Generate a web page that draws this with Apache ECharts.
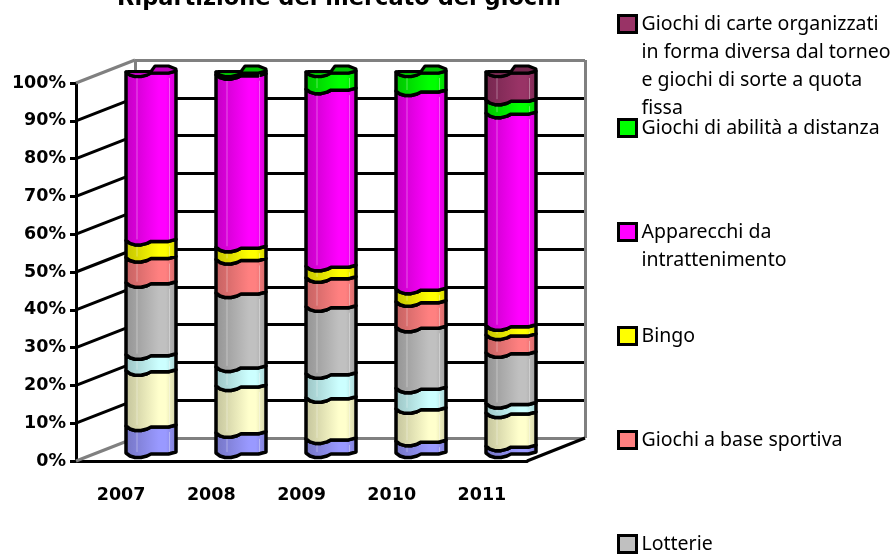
<!DOCTYPE html>
<html>
<head>
<meta charset="utf-8">
<style>html,body{margin:0;padding:0;background:#fff}#chart{width:895px;height:555px}</style>
<script src="https://cdn.jsdelivr.net/npm/echarts@6/dist/echarts.min.js"></script>
</head>
<body>
<div id="chart"></div>
<script>
var years = ['2007', '2008', '2009', '2010', '2011'];
var ticks = [0, 10, 20, 30, 40, 50, 60, 70, 80, 90, 100];

// bottom to top of the stack
var ippica = [7.1, 5.3, 3.7, 3.1, 1.8];
var lotto = [14.5, 12.3, 10.8, 8.5, 8.7];
var numerici = [4.2, 5, 6.3, 5.4, 2.5];
var lotterie = [18.9, 19.4, 17.6, 16, 13.3];
var sportiva = [6.6, 8.8, 7.6, 6.7, 4.7];
var bingo = [4.5, 3.2, 3, 3.3, 2.4];
var apparecchi = [44.2, 45.3, 46.5, 52, 55.8];
var abilita = [0, 0.7, 4.5, 5, 3.4];
var carte = [0, 0, 0, 0, 7.4];

var stack = [
    {name: 'Giochi a base ippica', values: ippica, color: [153, 153, 255]},
    {name: 'Lotto', values: lotto, color: [255, 255, 204]},
    {name: 'Giochi numerici a totalizzatore', values: numerici, color: [204, 255, 255]},
    {name: 'Lotterie', values: lotterie, color: [192, 192, 192]},
    {name: 'Giochi a base sportiva', values: sportiva, color: [255, 128, 128]},
    {name: 'Bingo', values: bingo, color: [255, 255, 0]},
    {name: 'Apparecchi da intrattenimento', values: apparecchi, color: [255, 0, 255]},
    {name: 'Giochi di abilità a distanza', values: abilita, color: [0, 255, 0]},
    {name: 'Giochi di carte organizzati in forma diversa dal torneo e giochi di sorte a quota fissa', values: carte, color: [153, 51, 102]}
];

var legendRows = [
    {name: stack[8].name, lines: ['Giochi di carte organizzati', 'in forma diversa dal torneo', 'e giochi di sorte a quota', 'fissa'], y: 24},
    {name: stack[7].name, lines: ['Giochi di abilità a distanza'], y: 128},
    {name: stack[6].name, lines: ['Apparecchi da', 'intrattenimento'], y: 232},
    {name: stack[5].name, lines: ['Bingo'], y: 336},
    {name: stack[4].name, lines: ['Giochi a base sportiva'], y: 440},
    {name: stack[3].name, lines: ['Lotterie'], y: 544}
];

var DEPTH_X = 59, DEPTH_Y = -23, BAR_W = 50;
var LEGEND_LH = 28;
var edge = [[0, -2], [0.08, 1], [0.18, 2.5], [0.3, 2.5], [0.42, 1], [0.5, -1], [0.85, -1], [1, -3]];
var capBack = [[1, -5], [0.85, -8], [0.58, -8], [0.5, -2.5], [0.05, -2.5], [0, -2]];

function shade(c, k) {
    return 'rgb(' + Math.round(c[0] * k) + ',' + Math.round(c[1] * k) + ',' + Math.round(c[2] * k) + ')';
}

function barFill(c) {
    return new echarts.graphic.LinearGradient(0, 0, 1, 0, [
        {offset: 0, color: shade(c, 0.76)},
        {offset: 0.3, color: shade(c, 0.87)},
        {offset: 0.65, color: shade(c, 1)},
        {offset: 0.78, color: shade(c, 1)},
        {offset: 1, color: shade(c, 0.8)}
    ]);
}

function segmentRender(color, topIndexes) {
    return function (params, api) {
        var i = api.value(0);
        var low = api.value(1), high = api.value(2);
        if (high <= low) {
            return null;
        }
        var cx = api.coord([i, low])[0];
        var x0 = cx - BAR_W / 2;
        var yLow = api.coord([i, low])[1];
        var yHigh = api.coord([i, high])[1];
        var pts = [];
        edge.forEach(function (e) {
            pts.push([x0 + e[0] * BAR_W, yHigh + e[1]]);
        });
        edge.slice().reverse().forEach(function (e) {
            pts.push([x0 + e[0] * BAR_W, yLow + e[1]]);
        });
        var children = [{
            type: 'polygon',
            shape: {points: pts},
            style: {fill: barFill(color), stroke: '#000', lineWidth: 3.5, lineJoin: 'round'}
        }];
        // thin pale glints on the column
        [0.22, 0.87].forEach(function (t) {
            children.push({
                type: 'line',
                shape: {x1: x0 + t * BAR_W, y1: yHigh + 4, x2: x0 + t * BAR_W, y2: yLow - 3},
                style: {stroke: 'rgba(255,255,255,0.35)', lineWidth: 1}
            });
        });
        if (topIndexes[i]) {
            var cap = [];
            edge.forEach(function (e) {
                cap.push([x0 + e[0] * BAR_W, yHigh + e[1]]);
            });
            capBack.forEach(function (e) {
                cap.push([x0 + e[0] * BAR_W, yHigh + e[1]]);
            });
            children.push({
                type: 'polygon',
                shape: {points: cap},
                style: {fill: shade(color, 0.75), stroke: '#000', lineWidth: 3, lineJoin: 'round'}
            });
        }
        return {type: 'group', children: children};
    };
}

var running = years.map(function () { return 0; });
var barSeries = stack.map(function (s, k) {
    var rows = s.values.map(function (v, i) {
        var row = [i, running[i], running[i] + v];
        running[i] += v;
        return row;
    });
    var isTop = s.values.map(function (v, i) {
        var above = stack.slice(k + 1).some(function (t) { return t.values[i] > 0; });
        return v > 0 && !above;
    });
    return {
        name: s.name,
        type: 'custom',
        xAxisIndex: 2,
        yAxisIndex: 2,
        z: 5 + k,
        itemStyle: {color: shade(s.color, 1)},
        encode: {x: 0, y: [1, 2]},
        renderItem: segmentRender(s.color, isTop),
        data: rows
    };
});

// side wall lines and the two floor edges
var wallSeries = {
    type: 'custom',
    xAxisIndex: 0,
    yAxisIndex: 0,
    z: 3,
    silent: true,
    renderItem: function (params, api) {
        var v = api.value(1);
        var p = api.coord([0, v]);
        var x = params.coordSys.x;
        return {
            type: 'line',
            shape: {x1: x, y1: p[1], x2: x + DEPTH_X, y2: p[1] + DEPTH_Y},
            style: {stroke: (v === 0 || v === 100) ? '#808080' : '#000', lineWidth: 3}
        };
    },
    data: ticks.map(function (t) { return [0, t]; })
};

var floorRightSeries = {
    type: 'custom',
    xAxisIndex: 0,
    yAxisIndex: 0,
    z: 3,
    silent: true,
    renderItem: function (params, api) {
        var p = api.coord([0, 0]);
        var x = params.coordSys.x + params.coordSys.width;
        return {
            type: 'line',
            shape: {x1: x, y1: p[1], x2: x + DEPTH_X - 1, y2: p[1] + DEPTH_Y},
            style: {stroke: '#000', lineWidth: 3}
        };
    },
    data: [[0, 0]]
};

var wallLines = ticks.map(function (t) {
    return (t === 0 || t === 100) ? '#808080' : '#000';
});

var chart = echarts.init(document.getElementById('chart'));
chart.setOption({
    animation: false,
    title: {
        text: 'Ripartizione del mercato dei giochi',
        left: 334,
        top: -17,
        textAlign: 'center',
        textStyle: {fontFamily: 'DejaVu Sans', fontWeight: 'bold', fontSize: 22.5, color: '#000'}
    },
    legend: legendRows.map(function (row) {
        var n = row.lines.length;
        var blanks = new Array(n - 1).fill('').join('\n') + (n > 1 ? '\n' : '');
        return {
            data: [{name: row.name, icon: 'rect', itemStyle: {color: shade(stack.filter(function (s) { return s.name === row.name; })[0].color, 1), borderColor: '#000', borderWidth: 3}}],
            left: 617,
            top: row.y - (2 * n - 1) * LEGEND_LH / 2,
            padding: 0,
            itemWidth: 18,
            itemHeight: 17,
            itemGap: 0,
            selectedMode: false,
            formatter: function () {
                return blanks + row.lines.join('\n');
            },
            textStyle: {fontFamily: 'Noto Sans', fontSize: 19.5, color: '#000', lineHeight: LEGEND_LH, padding: 0}
        };
    }),
    grid: [
        {left: 76, top: 83, width: 451, height: 378},
        {left: 135, top: 60, width: 450, height: 378, show: false},
        {left: 106, top: 74, width: 450, height: 381}
    ],
    xAxis: [
        {
            gridIndex: 0,
            type: 'category',
            data: years,
            axisLine: {lineStyle: {color: '#000', width: 3}},
            axisTick: {length: 9, lineStyle: {color: '#000', width: 3}},
            axisLabel: {margin: 25, color: '#000', fontFamily: 'DejaVu Sans', fontWeight: 'bold', fontSize: 17.5}
        },
        {
            gridIndex: 1,
            type: 'value',
            min: 0,
            max: 1,
            interval: 1,
            axisLine: {show: false},
            axisTick: {show: false},
            axisLabel: {show: false},
            splitLine: {show: true, lineStyle: {color: '#808080', width: 3}}
        },
        {
            gridIndex: 2,
            type: 'category',
            data: years,
            show: false
        }
    ],
    yAxis: [
        {
            gridIndex: 0,
            type: 'value',
            min: 0,
            max: 100,
            interval: 10,
            axisLine: {show: true, lineStyle: {color: '#000', width: 3}},
            axisTick: {show: true, length: 6, lineStyle: {color: '#000', width: 3}},
            axisLabel: {formatter: '{value}%', margin: 10, color: '#000', fontFamily: 'DejaVu Sans', fontWeight: 'bold', fontSize: 17.5},
            splitLine: {show: false}
        },
        {
            gridIndex: 1,
            type: 'value',
            min: 0,
            max: 100,
            interval: 10,
            axisLine: {show: false},
            axisTick: {show: false},
            axisLabel: {show: false},
            splitLine: {show: true, lineStyle: {color: wallLines, width: 3}}
        },
        {
            gridIndex: 2,
            type: 'value',
            min: 0,
            max: 100,
            show: false
        }
    ],
    series: [wallSeries, floorRightSeries].concat(barSeries)
});
</script>
</body>
</html>
